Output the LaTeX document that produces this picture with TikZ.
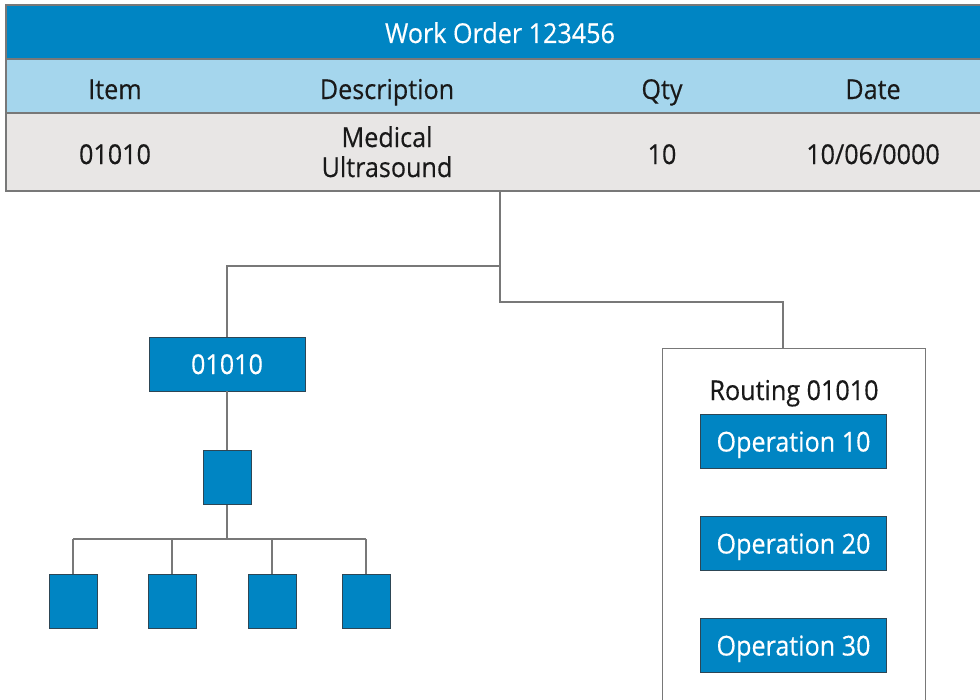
\documentclass[tikz,border=0pt]{standalone}
\usepackage{fontspec}
\setmainfont{Open Sans}[FakeStretch=0.92, FakeBold=0.35]
\usetikzlibrary{positioning}
\definecolor{bluedark}{RGB}{0,133,195}
\definecolor{bluelight}{RGB}{165,214,237}
\definecolor{rowgray}{RGB}{232,230,229}
\definecolor{edgegray}{RGB}{120,120,120}
\definecolor{boxline}{RGB}{45,70,85}
\definecolor{inktext}{RGB}{25,25,25}
\tikzset{
  txt/.style={font=\fontsize{20.5}{22.5}\selectfont, text=inktext, inner sep=0pt, align=center,
    text height=15pt, text depth=0pt},
  wtxt/.style={txt, text=white},
  bluebox/.style={draw=boxline, line width=0.7pt, fill=bluedark, inner sep=0pt, text=white,
    font=\fontsize{20.5}{23}\selectfont, text height=15pt, text depth=0pt},
  link/.style={draw=edgegray, line width=1.1pt},
  band/.style={draw=edgegray, line width=0.9pt}
}
\begin{document}
\begin{tikzpicture}[x=0.75pt,y=-0.75pt]
  \useasboundingbox (0,0) rectangle (980,699);

  % work order table
  \path[band, fill=bluedark] (6,5) rectangle (984,59);
  \path[band, fill=bluelight] (6,59) rectangle (984,113);
  \path[band, fill=rowgray] (6,113) rectangle (984,191);

  \node[wtxt] (title) at (500,33) {Work Order 123456};
  \node[txt] (hItem) at (115,89) {Item};
  \node[txt] (hDesc) at (387,89) {Description};
  \node[txt] (hQty) at (662,89) {Qty};
  \node[txt] (hDate) at (873,89) {Date};
  \node[txt] (vItem) at (115,154) {01010};
  \node[txt] (vDesc) at (387,167) {Medical\\Ultrasound};
  \node[txt] (vQty) at (662,154) {10};
  \node[txt] (vDate) at (873,154) {10/06/0000};

  \coordinate (tap) at (500,191);
  \coordinate (splitL) at (500,266);
  \coordinate (splitR) at (500,302);

  % bill of materials
  \node[bluebox, minimum width=117pt, minimum height=40.5pt] (bom) at (227,364) {01010};
  \node[bluebox, minimum width=36pt, minimum height=41pt] (sub) at (227,477.5) {};
  \coordinate (bar) at (227,539);
  \foreach \n/\x in {c1/73,c2/172,c3/272,c4/366}{
    \node[bluebox, minimum width=36pt, minimum height=41pt] (\n) at (\x,601.5) {};
  }

  % routing
  \node[draw=edgegray, line width=0.9pt, fill=white, minimum width=197pt, minimum height=270pt,
        anchor=north west, inner sep=0pt] (route) at (662,348) {};
  \node[txt] (rtitle) at (794,390) {Routing 01010};
  \node[bluebox, minimum width=139pt, minimum height=41pt] (op1) at (793.5,441.5) {Operation 10};
  \node[bluebox, minimum width=139pt, minimum height=41pt] (op2) at (793.5,543.5) {Operation 20};
  \node[bluebox, minimum width=139pt, minimum height=41pt] (op3) at (793.5,645.5) {Operation 30};

  % connectors
  \draw[link] (tap) -- (splitR) -| (route.north -| 783,0);
  \draw[link] (splitL) -| (bom.north);
  \draw[link] (bom.south) -- (sub.north);
  \draw[link] (sub.south) -- (bar);
  \draw[link] (bar -| c1) -- (bar -| c4);
  \foreach \n in {c1,c2,c3,c4}{
    \draw[link] (bar -| \n) -- (\n.north);
  }
\end{tikzpicture}
\end{document}
